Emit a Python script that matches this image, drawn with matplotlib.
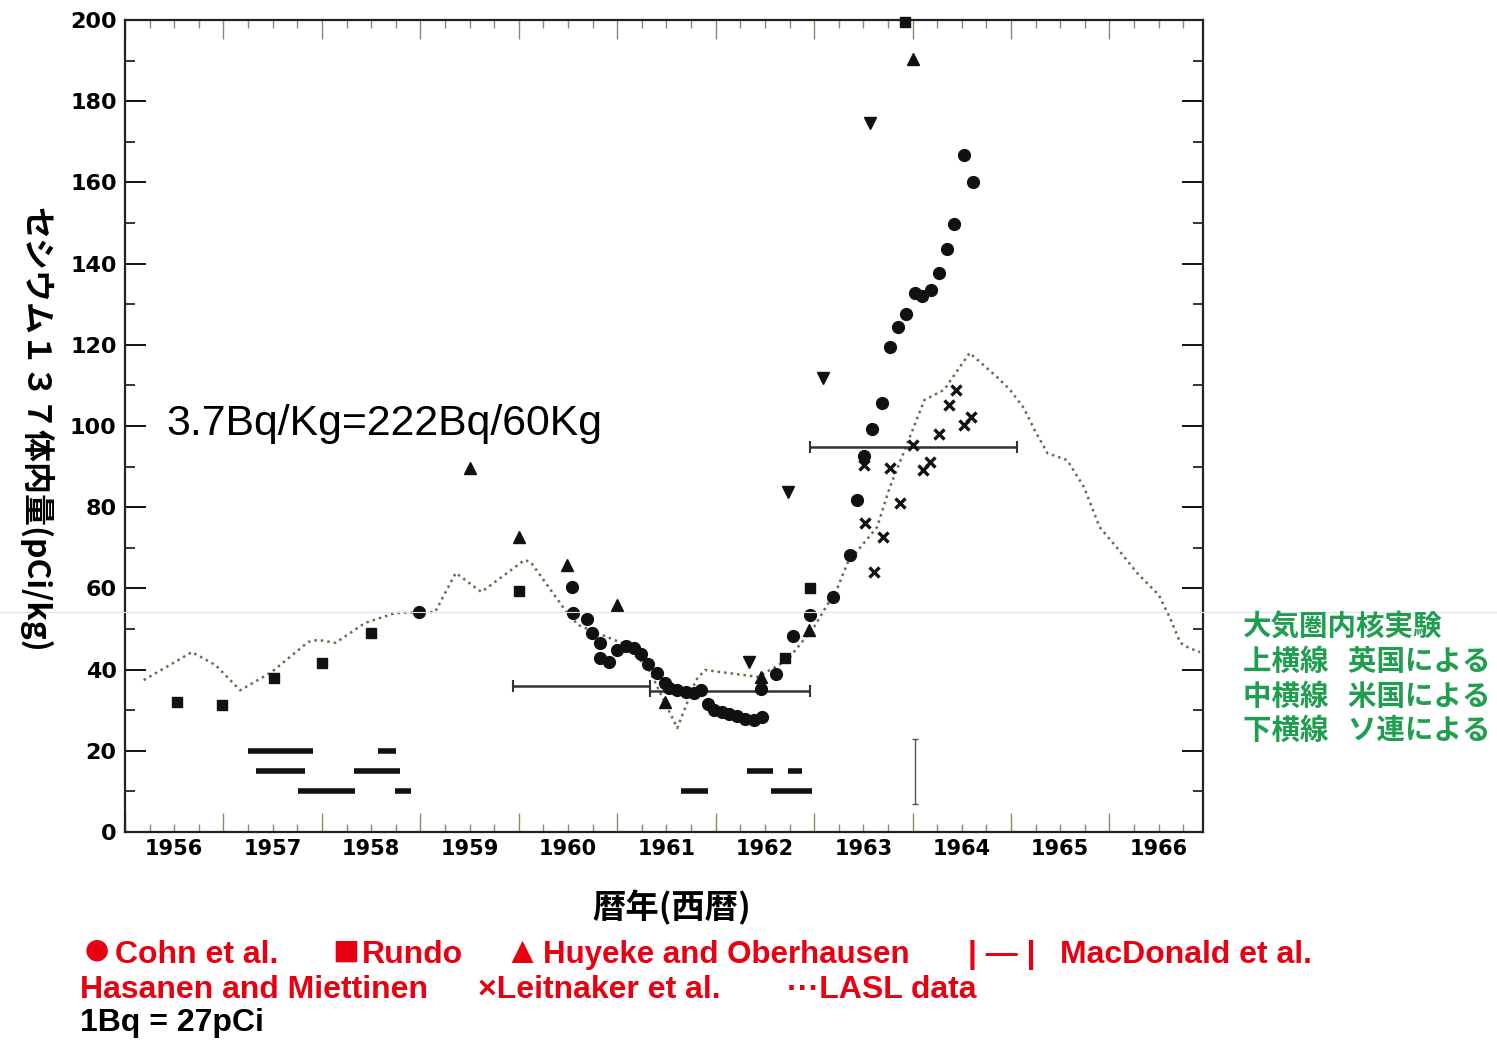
import matplotlib
matplotlib.use("Agg")
import matplotlib.pyplot as plt
from matplotlib.ticker import MultipleLocator, FuncFormatter, NullFormatter
from matplotlib.lines import Line2D

# LASL data (dotted curve)
lasl_year = [1956.19, 1956.68, 1956.92, 1957.17, 1957.49, 1957.86, 1957.96, 1958.14, 1958.44, 1958.74,
             1959.15, 1959.36, 1959.62, 1960.06, 1960.12, 1960.23, 1960.47, 1960.60, 1961.04, 1961.31,
             1961.61, 1961.80, 1961.89, 1962.43, 1962.73, 1963.00, 1963.24, 1963.34, 1963.64, 1963.77,
             1963.92, 1964.00, 1964.12, 1964.32, 1964.58, 1964.86, 1964.99, 1965.13, 1965.24, 1965.37,
             1965.57, 1965.74, 1965.90, 1966.07, 1966.28, 1966.50, 1966.61, 1966.72, 1966.81, 1966.92]
lasl_val = [37.4, 44.3, 41.1, 34.9, 39.4, 46.8, 47.3, 46.6, 51.5, 53.9,
            54.2, 63.8, 59.1, 67.0, 66.5, 62.8, 54.7, 51.0, 46.6, 40.6,
            25.6, 37.4, 39.9, 38.2, 42.4, 50.5, 60.3, 66.3, 75.1, 85.0,
            94.1, 99.0, 106.4, 108.9, 118.0, 112.0, 108.9, 104.4, 99.0, 93.3,
            91.6, 85.0, 75.1, 70.2, 63.8, 58.4, 53.0, 46.6, 45.3, 44.3]

# Cohn et al. (circles)
cohn_year = [1958.99, 1960.54, 1960.55, 1960.69, 1960.74, 1960.83, 1960.83, 1960.92, 1961.00, 1961.09,
             1961.17, 1961.24, 1961.31, 1961.40, 1961.49, 1961.53, 1961.61, 1961.70, 1961.78, 1961.85,
             1961.92, 1961.98, 1962.06, 1962.14, 1962.22, 1962.30, 1962.39, 1962.47, 1962.46, 1962.61,
             1962.79, 1962.96, 1963.19, 1963.36, 1963.44, 1963.51, 1963.59, 1963.69, 1963.77, 1963.85,
             1963.93, 1964.02, 1964.10, 1964.19, 1964.27, 1964.35, 1964.42, 1964.52, 1964.61]
cohn_val = [54.2, 60.3, 53.9, 52.5, 49.0, 46.6, 42.9, 41.9, 44.8, 45.8,
            45.3, 43.8, 41.4, 39.2, 36.7, 35.5, 35.0, 34.5, 34.2, 35.0,
            31.5, 30.0, 29.6, 29.1, 28.6, 27.8, 27.6, 28.3, 35.3, 39.0,
            48.3, 53.5, 57.9, 68.2, 81.8, 92.6, 99.3, 105.7, 119.5, 124.4,
            127.6, 132.8, 132.0, 133.5, 137.7, 143.6, 149.8, 166.8, 160.0]

# Rundo (squares)
rundo_year = [1956.53, 1956.99, 1957.51, 1958.00, 1958.50, 1960.00, 1962.70, 1962.96, 1963.92]
rundo_val = [32.0, 31.3, 37.9, 41.6, 49.0, 59.4, 42.8, 60.1, 199.5]

# Huyeke and Oberhausen (triangles)
huyeke_year = [1959.50, 1960.00, 1960.49, 1961.00, 1961.49, 1962.46, 1962.95, 1964.00]
huyeke_val = [89.7, 72.7, 65.8, 55.9, 32.0, 38.2, 49.8, 190.4]

# Hasanen and Miettinen (down triangles)
hasanen_year = [1962.34, 1962.73, 1963.09, 1963.57]
hasanen_val = [41.9, 83.7, 111.8, 174.6]

# Leitnaker et al. (x)
leit_year = [1963.51, 1963.52, 1963.61, 1963.70, 1963.77, 1963.87, 1964.00, 1964.11, 1964.18, 1964.27,
             1964.37, 1964.44, 1964.52, 1964.59]
leit_val = [90.4, 76.1, 64.0, 72.7, 89.7, 81.0, 95.3, 89.2, 91.1, 98.0,
            105.2, 108.9, 100.2, 102.2]

# MacDonald et al. (period bars)
macd_start = [1959.94, 1961.33, 1962.96]
macd_end = [1961.33, 1962.96, 1965.06]
macd_val = [36.0, 34.8, 94.8]

# atmospheric nuclear tests: UK (top), US (middle), USSR (bottom)
uk_level = 20
uk_start = [1957.25, 1958.57]
uk_end = [1957.91, 1958.75]
us_level = 15
us_start = [1957.33, 1958.33, 1962.32, 1962.73]
us_end = [1957.83, 1958.79, 1962.58, 1962.88]
ussr_level = 10
ussr_start = [1957.76, 1958.74, 1961.65, 1962.56]
ussr_end = [1958.34, 1958.91, 1961.92, 1962.98]

ban_year = 1964.02
ban_low, ban_high = 7, 23

plt.rcParams['font.family'] = ['DejaVu Sans']
plt.rcParams['font.weight'] = 'bold'
jp = ['Noto Sans CJK JP', 'DejaVu Sans']
lat = ['Liberation Sans', 'DejaVu Sans']
ink = '#111111'

fig = plt.figure(figsize=(14.97, 10.41), dpi=100)
ax = fig.add_axes([0.0835, 0.2008, 0.7201, 0.78])

ax.plot(lasl_year, lasl_val, linestyle=(0, (1, 1.6)), color='#6e6a48', lw=1.8, zorder=2)
ax.plot(cohn_year, cohn_val, 'o', color=ink, ms=8.5, zorder=4, clip_on=False)
ax.plot(rundo_year, rundo_val, 's', color=ink, ms=7.5, zorder=4, clip_on=False)
ax.plot(huyeke_year, huyeke_val, '^', color=ink, ms=8.5, zorder=4, clip_on=False)
ax.plot(hasanen_year, hasanen_val, 'v', color=ink, ms=8.5, zorder=4, clip_on=False)
ax.plot(leit_year, leit_val, 'x', color=ink, ms=6.5, mew=2.4, zorder=4)

mid = [(s + e) / 2 for s, e in zip(macd_start, macd_end)]
half = [(e - s) / 2 for s, e in zip(macd_start, macd_end)]
ax.errorbar(mid, macd_val, xerr=half, fmt='none', ecolor='#333333',
            elinewidth=1.8, capsize=4, capthick=1.5, zorder=3)

ax.hlines([uk_level] * len(uk_start), uk_start, uk_end, color=ink, lw=4)
ax.hlines([us_level] * len(us_start), us_start, us_end, color=ink, lw=4)
ax.hlines([ussr_level] * len(ussr_start), ussr_start, ussr_end, color=ink, lw=4)
ax.errorbar([ban_year], [(ban_low + ban_high) / 2], yerr=[(ban_high - ban_low) / 2],
            fmt='none', ecolor='#555555', elinewidth=1, capsize=2.5)

ax.set_xlim(1956.0, 1966.95)
ax.set_ylim(0, 200)

ax.xaxis.set_major_locator(MultipleLocator(1))
ax.xaxis.set_minor_locator(MultipleLocator(0.25))
ax.xaxis.set_major_formatter(NullFormatter())
ax.xaxis.set_minor_formatter(FuncFormatter(
    lambda v, p: str(int(v)) if abs(v % 1 - 0.5) < 1e-6 else ''))
ax.tick_params(axis='x', which='major', direction='in', length=14, width=1,
               top=True, color='#8a8a6a')
ax.tick_params(axis='x', which='minor', direction='in', length=6, width=1,
               top=True, color='#8a8a6a', labelsize=15, pad=5)

ax.yaxis.set_major_locator(MultipleLocator(20))
ax.yaxis.set_minor_locator(MultipleLocator(10))
ax.tick_params(axis='y', which='major', direction='in', length=15, width=1.3,
               right=True, labelsize=16, pad=6)
ax.tick_params(axis='y', which='minor', direction='in', length=7, width=1.1, right=True)

for sp in ax.spines.values():
    sp.set_linewidth(1.6)
    sp.set_color('#222222')

ax.text(1956.42, 100.5, '3.7Bq/Kg=222Bq/60Kg', fontsize=30.8, family=lat,
        weight='normal', ha='left', va='center', color='black')

fig.text(0.4489, 0.1278, '暦年(西暦)', fontsize=24, family=jp, ha='center', va='center')
fig.text(0.0234, 0.587, 'セシウム１３７体内量(pCi/kg)', fontsize=23, family=jp,
         rotation=270, ha='center', va='center')

green = '#1f9e4f'
green_lines = ['大気圏内核実験', '上横線   英国による', '中横線   米国による', '下横線   ソ連による']
for i, s in enumerate(green_lines):
    fig.text(0.8303, 0.3967 - i * 0.033, s, fontsize=20.5, family=jp, color=green,
             ha='left', va='center')

red = '#e60012'
row1, row2, row3 = 0.0826, 0.0490, 0.0173
fig.text(0.0548, row1 + 0.003, '●', fontsize=36, family=lat, color=red, va='center')
fig.text(0.0768, row1, 'Cohn et al.', fontsize=23, family=lat, color=red, va='center')
fig.text(0.2218, row1 + 0.002, '■', fontsize=32, family=lat, color=red, va='center')
fig.text(0.2418, row1, 'Rundo', fontsize=23, family=lat, color=red, va='center')
fig.text(0.3365, row1 + 0.002, '▲', fontsize=27, family=lat, color=red, va='center')
fig.text(0.3625, row1, 'Huyeke and Oberhausen', fontsize=22.5, family=lat, color=red, va='center')
fig.text(0.6466, row1, '| — |', fontsize=23, family=lat, color=red, va='center')
fig.text(0.7081, row1, 'MacDonald et al.', fontsize=23, family=lat, color=red, va='center')
fig.text(0.0534, row2, 'Hasanen and Miettinen', fontsize=23, family=lat, color=red, va='center')
fig.text(0.3193, row2, '×Leitnaker et al.', fontsize=23, family=lat, color=red, va='center')
fig.text(0.5257, row2, '···LASL data', fontsize=23, family=lat, color=red, va='center')
fig.text(0.0534, row3, '1Bq = 27pCi', fontsize=23, family=lat, color='black', va='center')

fig.add_artist(Line2D([0, 1], [0.412, 0.412], transform=fig.transFigure,
                      color='#d5e5f0', lw=0.8))

fig.savefig('out.png', dpi=100)
